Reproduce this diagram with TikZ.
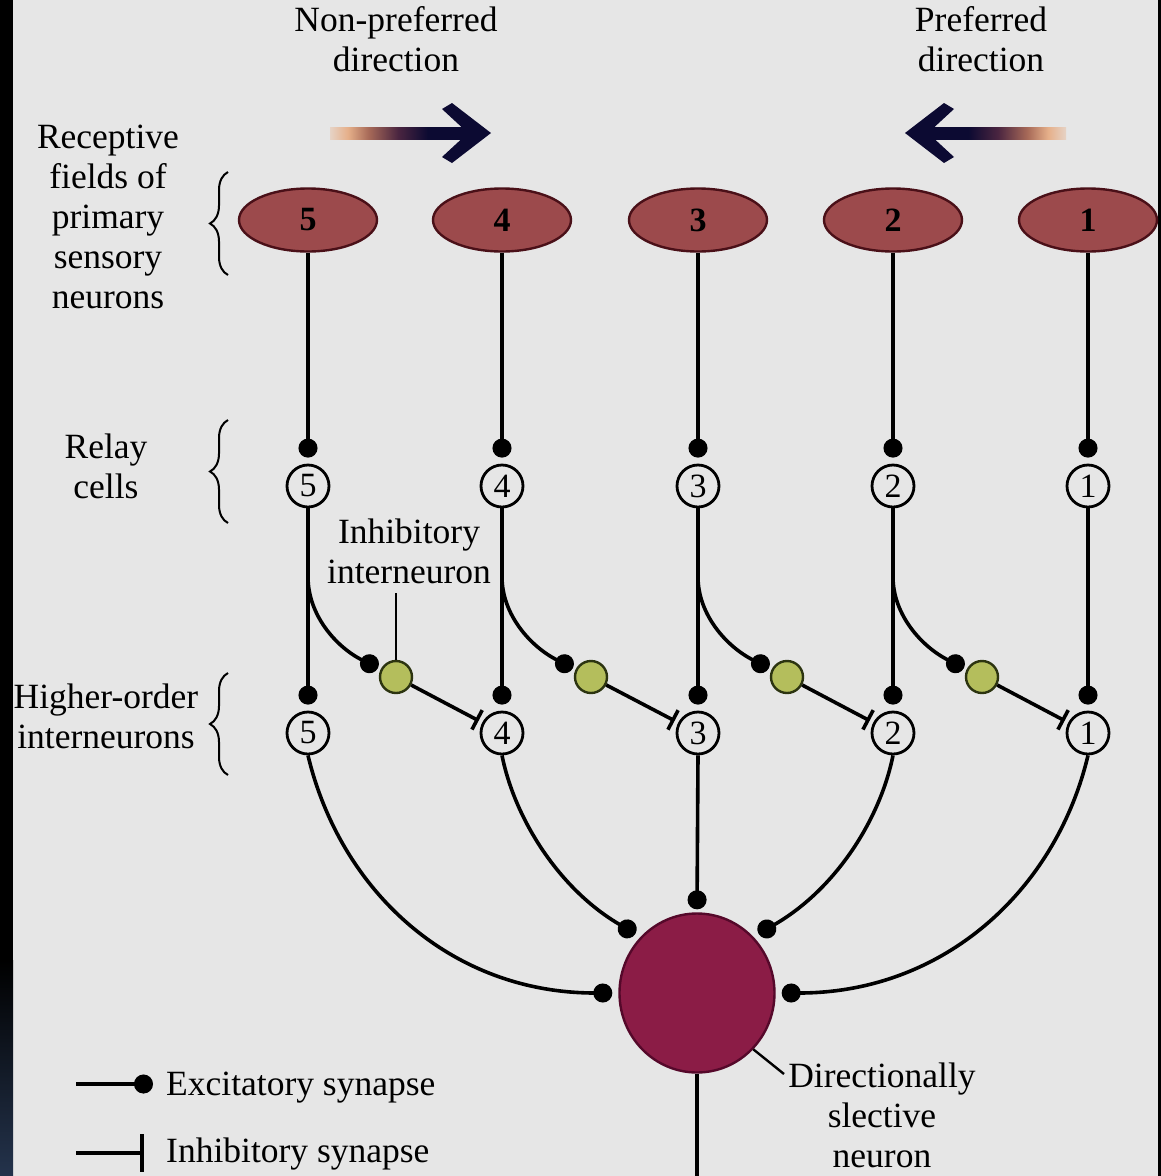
\documentclass[tikz,border=0pt]{standalone}
\usepackage{fontspec}
\setmainfont{Liberation Serif}
\usetikzlibrary{arrows.meta,decorations.pathreplacing,shapes.geometric}

\definecolor{bg}{HTML}{E6E6E6}
\definecolor{rfill}{HTML}{9C4A4C}
\definecolor{rdraw}{HTML}{4A1018}
\definecolor{nfill}{HTML}{8B1C46}
\definecolor{ndraw}{HTML}{55082A}
\definecolor{gfill}{HTML}{B4BE5C}
\definecolor{gdraw}{HTML}{2C3410}
\definecolor{navyc}{HTML}{0C0A32}
\definecolor{peachc}{HTML}{E6B08A}
\definecolor{tanc}{HTML}{A86A58}
\definecolor{plumc}{HTML}{4A2540}
\definecolor{stripnavy}{HTML}{24334C}

\pgfdeclarehorizontalshading{arrowR}{100bp}{color(0bp)=(bg); color(25bp)=(peachc!35!bg); color(31bp)=(peachc); color(38bp)=(tanc); color(48bp)=(plumc); color(58bp)=(navyc); color(100bp)=(navyc)}
\pgfdeclarehorizontalshading{arrowL}{100bp}{color(0bp)=(navyc); color(42bp)=(navyc); color(52bp)=(plumc); color(62bp)=(tanc); color(69bp)=(peachc); color(75bp)=(peachc!35!bg); color(100bp)=(bg)}

\begin{document}
\begin{tikzpicture}[x=1pt,y=-1pt,
  lbl/.style={font=\fontsize{35.5}{40}\selectfont, align=center, inner sep=0pt},
  rf/.style={ellipse, minimum width=138pt, minimum height=63pt, fill=rfill, draw=rdraw, line width=2.4pt, inner sep=0pt, font=\fontsize{34}{34}\selectfont\bfseries},
  cell/.style={circle, minimum size=42pt, draw=black, line width=2.8pt, fill=bg, inner sep=0pt, font=\fontsize{34}{34}\selectfont},
  inh/.style={circle, minimum size=32pt, fill=gfill, draw=gdraw, line width=2.4pt, inner sep=0pt},
  bigcell/.style={ellipse, minimum width=155pt, minimum height=159pt, fill=nfill, draw=ndraw, line width=2.4pt, inner sep=0pt},
  wire/.style={line width=3.6pt, draw=black},
  thinwire/.style={line width=2.4pt, draw=black},
  exc/.style={wire, -{Circle[length=19pt,width=19pt]}, shorten >=6pt},
  inhib/.style={wire, -{Bar[width=22pt]}, shorten >=4pt},
  brc/.style={decorate, decoration={brace, amplitude=18pt}, line width=2pt},
]
\useasboundingbox (0,0) rectangle (1161,1176);
\fill[bg] (0,0) rectangle (1161,1176);
\fill[black] (0,0) rectangle (13,960);
\shade[top color=black, bottom color=stripnavy] (0,960) rectangle (13,1176);
\fill[black] (1158,0) rectangle (1161,1176);

% direction labels and arrows
\node[lbl, anchor=base] (np) at (396,71) {Non-preferred\\direction};
\node[lbl, anchor=base] (pd) at (981,71) {Preferred\\direction};
\shade[shading=arrowR] (330,127) rectangle (478,139);
\fill[navyc] (491,133) -- (452,103) -- (442,109) -- (468,133) -- (442,157) -- (452,163) -- cycle;
\shade[shading=arrowL] (918,127) rectangle (1066,139);
\fill[navyc] (905,133) -- (944,103) -- (954,109) -- (928,133) -- (954,157) -- (944,163) -- cycle;

% side labels and braces
\node[lbl, anchor=base] (rfl) at (108,308) {Receptive\\fields of\\primary\\sensory\\neurons};
\node[lbl, anchor=base] (rcl) at (106,498) {Relay\\cells};
\node[lbl, anchor=base] (hol) at (106,748) {Higher-order\\interneurons};
\draw[brc] (228,275) -- (228,172);
\draw[brc] (228,523) -- (228,420);
\draw[brc] (228,775) -- (228,673);

% cells
\foreach \i/\x in {5/308,4/502,3/698,2/893,1/1088} {
  \node[rf] (e\i) at (\x,220) {\i};
  \node[cell] (r\i) at (\x,486) {\i};
  \node[cell] (h\i) at (\x,733) {\i};
  \coordinate (b\i) at (\x,577);
}
\foreach \j/\x in {5/396,4/591,3/787,2/982} {
  \node[inh] (g\j) at (\x,677) {};
}
\node[bigcell] (n) at (697,993) {};

% connectors
\foreach \i in {1,...,5} {
  \draw[exc] (e\i.south) -- (r\i.north);
  \draw[exc] (r\i.south) -- (h\i.north);
}
\foreach \i/\k in {5/4,4/3,3/2,2/1} {
  \draw[exc, shorten >=3pt] (b\i) .. controls +(0,38) and +(-60,-30) .. (g\i);
  \draw[inhib] (g\i) -- (h\k);
}
\node[lbl, anchor=base] (inl) at (409,583) {Inhibitory\\interneuron};
\coordinate (inltip) at (396,593);
\draw[thinwire] (g5.north) -- (inltip);

\draw[exc] (h5.south) .. controls (340,890) and (450,993) .. (n.west);
\draw[exc] (h4.south) .. controls (515,820) and (560,890) .. (n.135);
\draw[exc, shorten >=3pt] (h3.south) -- (n.north);
\draw[exc] (h2.south) .. controls (880,820) and (835,890) .. (n.45);
\draw[exc] (h1.south) .. controls (1056,890) and (944,993) .. (n.east);
\coordinate (outend) at (697,1176);
\draw[wire] (n.south) -- (outend);

\node[lbl, anchor=base] (dsl) at (882,1167) {Directionally\\slective\\neuron};
\coordinate (dlead) at (784,1074);
\draw[thinwire] (n.-45) -- (dlead);

% legend
\coordinate (lx1) at (76,1084);
\coordinate (lx2) at (153,1084);
\draw[wire, -{Circle[length=19pt,width=19pt]}] (lx1) -- (lx2);
\node[lbl, anchor=base west] (exl) at (166,1095) {Excitatory synapse};
\coordinate (li1) at (76,1153);
\coordinate (li2) at (144,1153);
\draw[wire, -{Bar[width=38pt]}] (li1) -- (li2);
\node[lbl, anchor=base west] (ihl) at (166,1162) {Inhibitory synapse};
\end{tikzpicture}
\end{document}
